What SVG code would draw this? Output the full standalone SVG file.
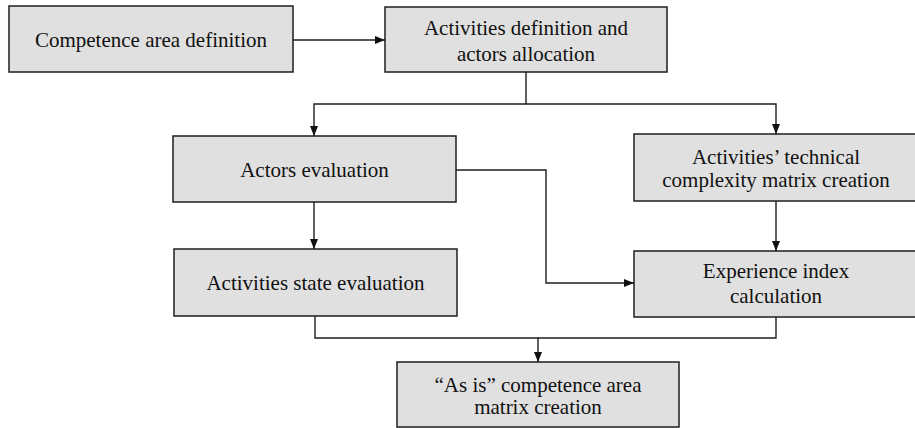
<svg xmlns="http://www.w3.org/2000/svg" width="915" height="428" viewBox="0 0 915 428">
  <style>
    .box { fill: #e0e0e0; stroke: #1e1e1e; stroke-width: 1.5; }
    .lbl { font-family: "Liberation Serif", "Times New Roman", serif; font-size: 21px; fill: #111; text-anchor: middle; }
    .conn { fill: none; stroke: #1e1e1e; stroke-width: 1.4; }
  </style>
  <defs>
    <marker id="arr" markerUnits="userSpaceOnUse" markerWidth="10" markerHeight="10" viewBox="0 0 10 10" refX="10" refY="5" orient="auto">
      <path d="M0,1 L10,5 L0,9 Z" fill="#111"/>
    </marker>
  </defs>
  <rect width="915" height="428" fill="#ffffff"/>

  <g id="connectors">
    <path class="conn" d="M293,40 H385" marker-end="url(#arr)"/>
    <path class="conn" d="M526,72 V104 H314 V136" marker-end="url(#arr)"/>
    <path class="conn" d="M526,104 H776 V134" marker-end="url(#arr)"/>
    <path class="conn" d="M456,170 H546 V283 H634" marker-end="url(#arr)"/>
    <path class="conn" d="M314,202 V249" marker-end="url(#arr)"/>
    <path class="conn" d="M776,201 V251" marker-end="url(#arr)"/>
    <path class="conn" d="M315,316 V338 H538 V362" marker-end="url(#arr)"/>
    <path class="conn" d="M776,317 V338 H538"/>
  </g>

  <g id="competence-area-definition">
    <rect class="box" x="9" y="6" width="284" height="66"/>
    <text class="lbl" x="151" y="47">Competence area definition</text>
  </g>

  <g id="activities-definition">
    <rect class="box" x="385" y="7" width="282" height="65"/>
    <text class="lbl" x="526" y="35">Activities definition and</text>
    <text class="lbl" x="526" y="61">actors allocation</text>
  </g>

  <g id="actors-evaluation">
    <rect class="box" x="173" y="136" width="283" height="66"/>
    <text class="lbl" x="314.5" y="177">Actors evaluation</text>
  </g>

  <g id="technical-complexity">
    <rect class="box" x="634" y="134" width="284" height="67"/>
    <text class="lbl" x="776" y="164">Activities’ technical</text>
    <text class="lbl" x="776" y="187">complexity matrix creation</text>
  </g>

  <g id="activities-state-evaluation">
    <rect class="box" x="174" y="249" width="283" height="67"/>
    <text class="lbl" x="315.5" y="290">Activities state evaluation</text>
  </g>

  <g id="experience-index">
    <rect class="box" x="634" y="251" width="284" height="66"/>
    <text class="lbl" x="776" y="278">Experience index</text>
    <text class="lbl" x="776" y="303">calculation</text>
  </g>

  <g id="as-is-matrix">
    <rect class="box" x="397" y="362" width="282" height="65"/>
    <text class="lbl" x="538" y="392">“As is” competence area</text>
    <text class="lbl" x="538" y="414">matrix creation</text>
  </g>
</svg>
